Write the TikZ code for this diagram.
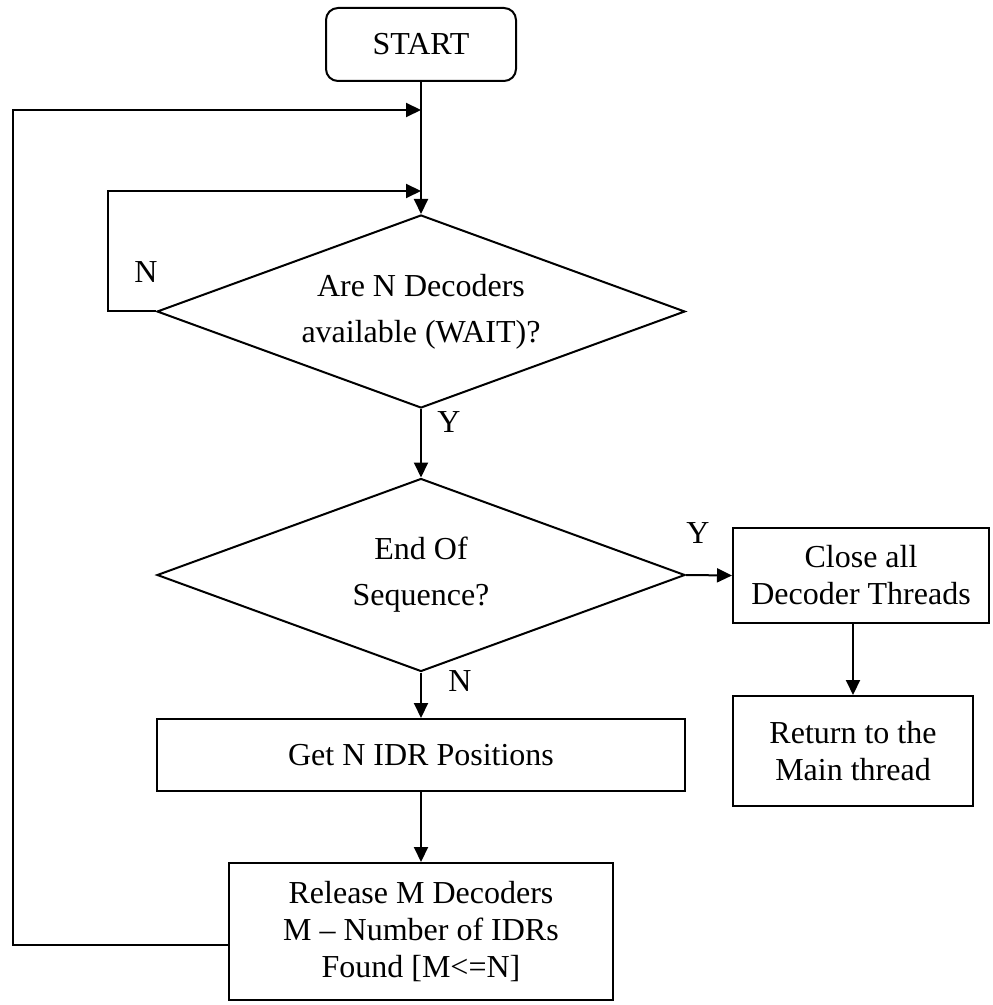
\documentclass[tikz,border=0pt]{standalone}
\usepackage{fontspec}
\setmainfont{Liberation Serif}
\usetikzlibrary{arrows.meta,shapes.geometric}

\tikzset{
  base/.style={draw, line width=1pt, inner sep=0pt, align=center,
    font=\fontsize{16}{18.5}\selectfont},
  terminal/.style={base, rounded corners=6pt, minimum width=95pt, minimum height=36.5pt},
  decision/.style={base, diamond, aspect=2.74, minimum width=264pt, minimum height=96.5pt,
    font=\fontsize{16}{23}\selectfont},
  process/.style={base, rectangle},
  flow/.style={line width=1pt, -{Triangle[length=7.5pt,width=7pt]}},
  tag/.style={inner sep=0pt, font=\fontsize{16}{18.5}\selectfont}
}

\begin{document}
\begin{tikzpicture}[x=0.5pt, y=-0.5pt]
  \useasboundingbox (0,0) rectangle (992,1005);

  % nodes
  \node[terminal] (start) at (421,44.5) {START};
  \node[decision] (avail) at (421,311.5) {Are N Decoders\\available (WAIT)?};
  \node[decision] (eos) at (421,575) {End Of\\Sequence?};
  \node[process, minimum width=264pt, minimum height=36pt] (getn) at (421,755) {Get N IDR Positions};
  \node[process, minimum width=192pt, minimum height=68.5pt] (rel) at (421,931.5)
    {Release M Decoders\\M -- Number of IDRs\\Found [M<=N]};
  \node[process, minimum width=128pt, minimum height=47.5pt] (close) at (861,575.5)
    {Close all\\Decoder Threads};
  \node[process, minimum width=120pt, minimum height=55pt] (ret) at (853,751)
    {Return to the\\Main thread};

  % junctions on the main line and loop corners
  \coordinate (j1) at (421,110);
  \coordinate (j2) at (421,191);
  \coordinate (outer) at (13,110);
  \coordinate (inner) at (108,191);

  % main flow
  \draw[flow] (start.south) -- (avail.north);
  \draw[flow] (avail.south) -- (eos.north);
  \draw[flow] (eos.south) -- (getn.north);
  \draw[flow] (getn.south) -- (rel.north);
  \draw[flow] (eos.east) -- (close.west);
  \draw[flow] (ret.north |- close.south) -- (ret.north);

  % waiting loop and return loop
  \draw[flow] (avail.west) -| (inner) -- (j2);
  \draw[flow] ([yshift=-6.75pt]rel.west) -| (outer) -- (j1);

  % branch labels
  \node[tag] (n1) at (146,272) {N};
  \node[tag] (y1) at (449,422) {Y};
  \node[tag] (y2) at (698,533) {Y};
  \node[tag] (n2) at (460,681) {N};
\end{tikzpicture}
\end{document}
